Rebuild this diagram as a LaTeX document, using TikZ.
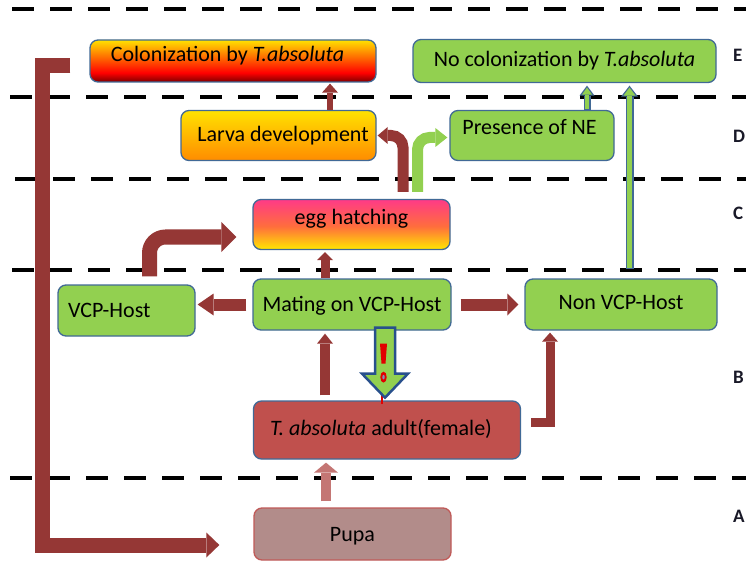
\documentclass[tikz,border=0pt]{standalone}
\usepackage{fontspec}
\setmainfont{Carlito}
\usetikzlibrary{arrows.meta,calc}
\definecolor{arrred}{RGB}{149,55,53}
\definecolor{boxgreen}{RGB}{146,208,80}
\definecolor{boxline}{RGB}{65,105,150}
\definecolor{adultred}{RGB}{192,80,77}
\definecolor{pupafill}{RGB}{178,140,138}
\definecolor{pupaline}{RGB}{192,90,88}
\definecolor{lightarr}{RGB}{196,118,116}
\definecolor{bangred}{RGB}{225,0,0}
\definecolor{bangblue}{RGB}{40,80,140}
\definecolor{cdark}{RGB}{125,0,0}
\definecolor{cred}{RGB}{255,0,0}
\definecolor{cyel}{RGB}{255,226,0}
\definecolor{lorange}{RGB}{255,140,0}
\definecolor{epink}{RGB}{255,58,135}
\definecolor{eorange}{RGB}{255,110,60}
\definecolor{eyel}{RGB}{255,232,0}
\definecolor{labcol}{RGB}{25,25,40}
\pgfdeclareverticalshading{colonshade}{100bp}{color(0bp)=(cdark); color(25bp)=(cdark); color(36bp)=(cred); color(75bp)=(cyel); color(100bp)=(cyel)}
\pgfdeclareverticalshading{eggshade}{100bp}{color(0bp)=(eyel); color(25bp)=(eyel); color(48bp)=(eorange); color(75bp)=(epink); color(100bp)=(epink)}
\tikzset{
  box/.style={draw=boxline, line width=1.3pt, rounded corners=8pt, inner sep=0pt,
    font=\fontsize{22}{26}\selectfont, text height=14pt},
  greenbox/.style={box, fill=boxgreen},
  dashline/.style={draw=black, line width=4.5pt, dash pattern=on 22pt off 16pt},
  lab/.style={font=\fontsize{19}{23}\selectfont\bfseries, text=labcol, anchor=west, inner sep=0pt},
  redarr/.style n args={3}{draw=arrred, line width=#1, line join=miter,
    -{Triangle[width=#2,length=#3,line width=0pt]}},
  greenarr/.style n args={3}{draw=boxgreen, line width=#1, line join=miter,
    -{Triangle[width=#2,length=#3,line width=0pt]}},
  outarr/.style n args={3}{draw=boxline, line width=#1,
    -{Triangle[width=#2,length=#3,line width=0pt]}},
}
\begin{document}
\begin{tikzpicture}[x=1pt,y=-1pt]
\fill[white] (0,0) rectangle (746,561);
\useasboundingbox (0,0) rectangle (746,561);

% layer separators
\foreach \yy/\xs in {9/12, 97/10, 179/15, 270/12, 478/10}
  \draw[dashline] (\xs,\yy) -- (746,\yy);

% layer labels
\node[lab] (labE) at (733,55) {E};
\node[lab] (labD) at (733,136) {D};
\node[lab] (labC) at (733,213) {C};
\node[lab] (labB) at (733,377) {B};
\node[lab] (labA) at (733,516) {A};

% boxes
\node[box, shade, shading=colonshade, text depth=12pt, minimum width=286pt, minimum height=42pt]
  (colon) at (233,61) {Colonization by \textit{T.absoluta}\hspace*{11pt}};
\node[greenbox, text depth=2pt, minimum width=303pt, minimum height=43pt]
  (nocol) at (564.5,61) {No colonization by \textit{T.absoluta}};
\node[box, top color=cyel, bottom color=lorange, text depth=1pt, minimum width=195pt, minimum height=50pt]
  (larva) at (278.5,135.5) {\hspace*{9pt}Larva development};
\node[greenbox, text depth=16pt, minimum width=164pt, minimum height=50pt]
  (ne) at (532,135.5) {Presence of NE\hspace*{5pt}};
\node[box, shade, shading=eggshade, text depth=14pt, minimum width=197pt, minimum height=50pt]
  (egg) at (351.5,224.5) {egg hatching};
\node[greenbox, text depth=0pt, text width=117pt, align=left, inner xsep=10pt, minimum height=51pt]
  (vcp) at (126.5,310.5) {VCP-Host};
\node[greenbox, text depth=0pt, minimum width=198pt, minimum height=51pt]
  (mating) at (352,304.5) {Mating on VCP-Host};
\node[greenbox, text depth=4pt, minimum width=192pt, minimum height=51pt]
  (nonvcp) at (621,304.5) {Non VCP-Host};
\node[box, fill=adultred, text depth=4pt, minimum width=267pt, minimum height=58pt]
  (adult) at (387,430) {\textit{T. absoluta} adult(female)\hspace*{12pt}};
\node[box, draw=pupaline, fill=pupafill, text depth=0pt, minimum width=197pt, minimum height=52pt]
  (pupa) at (352.5,534) {Pupa};

% connectors
% pupa -> colonization loop (big L)
\coordinate (loopstart) at ([xshift=-19pt,yshift=-5pt]colon.west);
\coordinate (loopend) at ([xshift=-34pt,yshift=-11pt]pupa.west);
\draw[redarr={15pt}{25pt}{13pt}] (loopstart) -- ++(-28,0) |- (loopend);

% larva -> colonization
\draw[redarr={6pt}{16pt}{9pt}, shorten >=1pt]
  ([xshift=51.5pt]larva.north) -- ([xshift=51.5pt]larva.north |- colon.south);

% egg -> larva (bent)
\draw[redarr={11pt}{17pt}{10pt}, rounded corners=12pt, shorten >=1pt]
  ([xshift=51.5pt,yshift=7pt]egg.north) |- (larva.east);

% egg -> presence of NE (bent, green)
\draw[greenarr={11pt}{19pt}{12pt}, rounded corners=12pt, shorten >=2pt]
  ([xshift=66pt,yshift=7pt]egg.north) |- ([yshift=-2pt]ne.west);

% presence of NE -> no colonization
\draw[outarr={7pt}{15pt}{10pt}, shorten >=2.5pt]
  ([xshift=55pt]ne.north) -- ([xshift=55pt]ne.north |- nocol.south);
\draw[greenarr={4pt}{10pt}{7pt}, shorten >=4.5pt, shorten <=0.7pt]
  ([xshift=55pt]ne.north) -- ([xshift=55pt]ne.north |- nocol.south);

% non VCP -> no colonization
\draw[outarr={8pt}{17pt}{11pt}, shorten >=2.5pt]
  ([xshift=8.5pt,yshift=9pt]nonvcp.north) -- ([xshift=8.5pt]nonvcp.north |- nocol.south);
\draw[greenarr={4.6pt}{12pt}{8pt}, shorten >=4.5pt, shorten <=1pt]
  ([xshift=8.5pt,yshift=9pt]nonvcp.north) -- ([xshift=8.5pt]nonvcp.north |- nocol.south);

% mating -> egg hatching
\draw[redarr={9pt}{16pt}{8pt}, shorten >=2pt]
  ([xshift=-27pt]mating.north) -- ([xshift=-27pt]mating.north |- egg.south);

% bent arrow from VCP-host area -> egg hatching
\coordinate (bentstart) at ([xshift=23pt,yshift=8pt]vcp.north);
\coordinate (benttip) at ([xshift=-16pt,yshift=-12.5pt]egg.west);
\draw[redarr={15pt}{30pt}{15pt}, rounded corners=16pt]
  (bentstart) |- (benttip);

% mating -> VCP-host
\draw[redarr={12pt}{22pt}{16pt}, shorten <=6pt, shorten >=2pt]
  (mating.west) -- (mating.west -| vcp.east);

% mating -> non VCP-host
\draw[redarr={12pt}{22pt}{11pt}, shorten <=9pt, shorten >=6pt]
  (mating.east) -- (nonvcp.west);

% adult -> mating
\draw[redarr={10pt}{16pt}{10pt}, shorten >=3pt]
  ([xshift=-62pt,yshift=5pt]adult.north) -- ([xshift=-62pt]adult.north |- mating.south);

% adult -> non VCP-host
\draw[redarr={9pt}{16pt}{9pt}, shorten >=2pt]
  ([xshift=10pt,yshift=8pt]adult.east) -| ([xshift=-71pt]nonvcp.south);

% pupa -> adult
\draw[draw=lightarr, line width=10pt, -{Triangle[width=24pt,length=10pt,line width=0pt]}, shorten >=3pt]
  ([xshift=-26.5pt,yshift=6pt]pupa.north) -- ([xshift=-26.5pt]pupa.north |- adult.south);

% warning block arrow mating -> adult
\coordinate (bangtop) at ([xshift=33pt,yshift=3pt]mating.south);
\begin{scope}[shift={(bangtop)}]
  \draw[bangred, line width=1.2pt] (-3,66) -- (-3,76);
  \draw[draw=bangblue, fill=boxgreen, line width=2.5pt, line join=miter]
    (-10,0) -- (10,0) -- (10,46) -- (23,46) -- (0,70) -- (-23,46) -- (-10,46) -- cycle;
  \fill[bangred] (-5,16) -- (2,16) -- (0.5,36) -- (-3.5,36) -- cycle;
  \fill[bangred] (-1.5,49.5) ellipse [x radius=3.2pt, y radius=5.5pt];
  \fill[bangblue!60] (-1.5,49.5) ellipse [x radius=1.2pt, y radius=2.3pt];
\end{scope}
\end{tikzpicture}
\end{document}
